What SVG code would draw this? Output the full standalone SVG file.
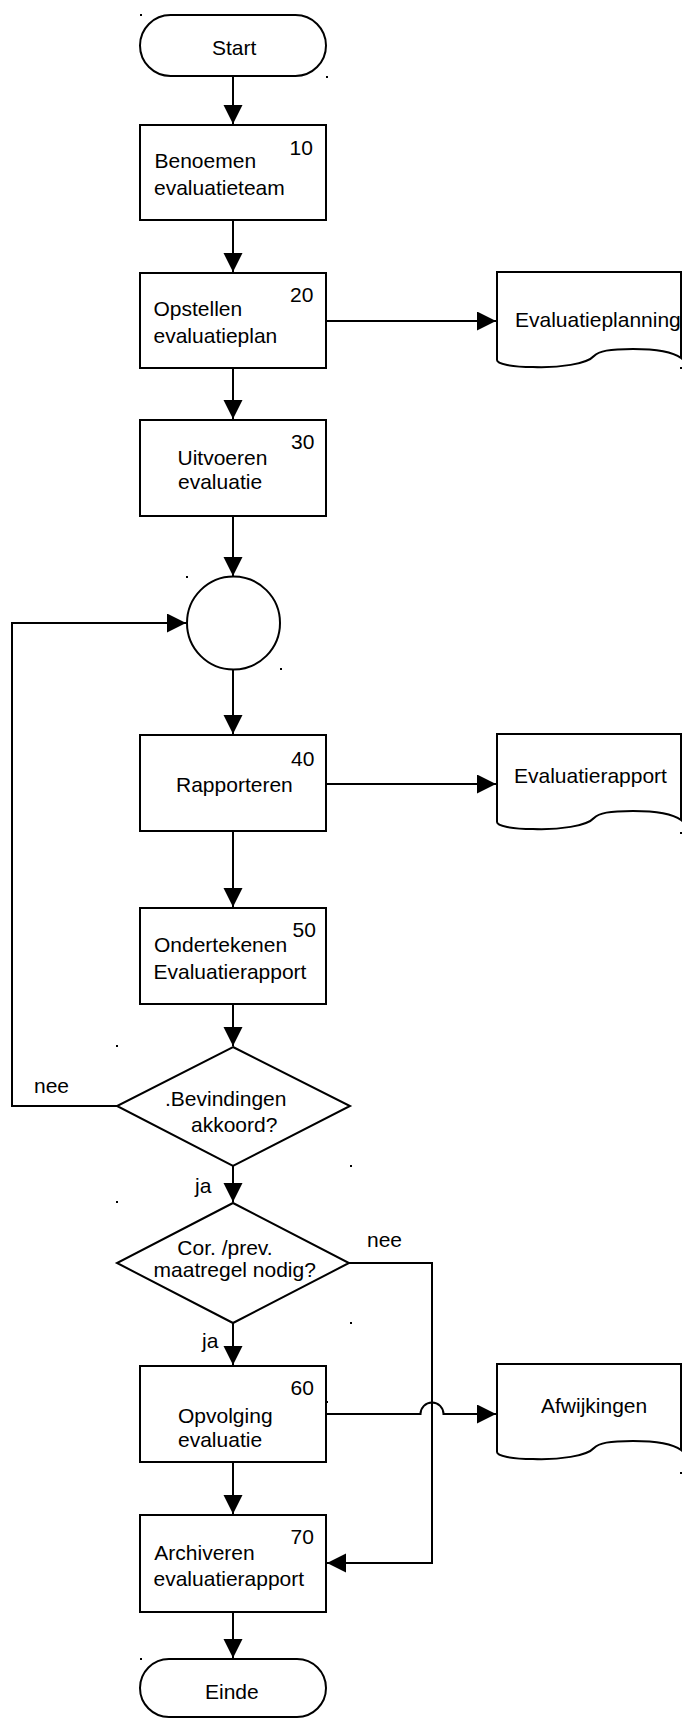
<svg xmlns="http://www.w3.org/2000/svg" width="683" height="1719" viewBox="0 0 683 1719">
<style>
.s{fill:#fff;stroke:#000;stroke-width:2}
.c{fill:none;stroke:#000;stroke-width:2}
text{font-family:"Liberation Sans",Arial,sans-serif;font-size:21px;fill:#000}
.d{fill:#000}
</style>
<defs>
<marker id="a" markerUnits="userSpaceOnUse" markerWidth="20" markerHeight="20" refX="19" refY="9.5" orient="auto">
<path d="M0,0 L19,9.5 L0,19 Z" fill="#000"/>
</marker>
<path id="doc" d="M0,0 H184 V86 C176,80 160,77 136,77 C112,77 102,79 97,84 C90,92 62,96 36,95 C15,95 0,92 0,88 Z"/>
</defs>
<rect width="683" height="1719" fill="#fff"/>
<g id="connectors">
<path class="c" d="M233,76 V124" marker-end="url(#a)"/>
<path class="c" d="M233,220 V272" marker-end="url(#a)"/>
<path class="c" d="M326,321 H496" marker-end="url(#a)"/>
<path class="c" d="M233,368 V419" marker-end="url(#a)"/>
<path class="c" d="M233,516 V576" marker-end="url(#a)"/>
<path class="c" d="M117,1106 H12 V623 H186" marker-end="url(#a)"/>
<path class="c" d="M233,669 V734" marker-end="url(#a)"/>
<path class="c" d="M326,784 H496" marker-end="url(#a)"/>
<path class="c" d="M233,831 V907" marker-end="url(#a)"/>
<path class="c" d="M233,1004 V1046" marker-end="url(#a)"/>
<path class="c" d="M233,1166 V1202" marker-end="url(#a)"/>
<path class="c" d="M233,1323 V1365" marker-end="url(#a)"/>
<path class="c" d="M326,1414 H420.5 A11.5,11.5 0 0 1 443.5,1414 H496" marker-end="url(#a)"/>
<path class="c" d="M349,1263 H432 V1563 H327" marker-end="url(#a)"/>
<path class="c" d="M233,1462 V1514" marker-end="url(#a)"/>
<path class="c" d="M233,1612 V1658" marker-end="url(#a)"/>
<text x="34" y="1093">nee</text>
<text x="195" y="1193">ja</text>
<text x="202" y="1348">ja</text>
<text x="367" y="1247">nee</text>
</g>
<g id="start">
<rect class="s" x="140" y="15" width="186" height="61" rx="30.5" ry="30.5"/>
<text x="212" y="55">Start</text>
</g>
<g id="n10">
<rect class="s" x="140" y="125" width="186" height="95"/>
<text x="289.5" y="155">10</text>
<text x="154.5" y="168">Benoemen</text>
<text x="154" y="195">evaluatieteam</text>
</g>
<g id="n20">
<rect class="s" x="140" y="273" width="186" height="95"/>
<text x="290" y="302">20</text>
<text x="153.5" y="316">Opstellen</text>
<text x="153.5" y="343">evaluatieplan</text>
</g>
<g id="evaluatieplanning">
<use href="#doc" class="s" x="497" y="272"/>
<text x="515" y="327">Evaluatieplanning</text>
</g>
<g id="n30">
<rect class="s" x="140" y="420" width="186" height="96"/>
<text x="291" y="449">30</text>
<text x="177.5" y="465">Uitvoeren</text>
<text x="178" y="489">evaluatie</text>
</g>
<g id="merge">
<circle class="s" cx="233.5" cy="623" r="46.5"/>
</g>
<g id="n40">
<rect class="s" x="140" y="735" width="186" height="96"/>
<text x="291" y="766">40</text>
<text x="176" y="792">Rapporteren</text>
</g>
<g id="evaluatierapport">
<use href="#doc" class="s" x="497" y="734"/>
<text x="514" y="783">Evaluatierapport</text>
</g>
<g id="n50">
<rect class="s" x="140" y="908" width="186" height="96"/>
<text x="292.5" y="937">50</text>
<text x="154" y="952">Ondertekenen</text>
<text x="153.5" y="979">Evaluatierapport</text>
</g>
<g id="d1">
<path class="s" d="M233,1047 L350,1106 L233,1166 L117,1106 Z"/>
<text x="165" y="1106">.Bevindingen</text>
<text x="191" y="1132">akkoord?</text>
</g>
<g id="d2">
<path class="s" d="M233,1203 L349,1263 L233,1323 L117,1263 Z"/>
<text x="177.3" y="1255">Cor. /prev.</text>
<text x="153.6" y="1277">maatregel nodig?</text>
</g>
<g id="n60">
<rect class="s" x="140" y="1366" width="186" height="96"/>
<text x="290.5" y="1395">60</text>
<text x="178" y="1423">Opvolging</text>
<text x="178" y="1447">evaluatie</text>
</g>
<g id="afwijkingen">
<use href="#doc" class="s" x="497" y="1364"/>
<text x="541" y="1413">Afwijkingen</text>
</g>
<g id="n70">
<rect class="s" x="140" y="1515" width="186" height="97"/>
<text x="290.5" y="1544">70</text>
<text x="154.3" y="1560">Archiveren</text>
<text x="153.5" y="1586">evaluatierapport</text>
</g>
<g id="einde">
<rect class="s" x="140" y="1659" width="186" height="58" rx="29" ry="29"/>
<text x="205" y="1699">Einde</text>
</g>
<g id="marks">
<rect class="d" x="140" y="14" width="2" height="2"/>
<rect class="d" x="326" y="76" width="2" height="2"/>
<rect class="d" x="186" y="576" width="2" height="2"/>
<rect class="d" x="280" y="668" width="2" height="2"/>
<rect class="d" x="680" y="367" width="2" height="2"/>
<rect class="d" x="680" y="832" width="2" height="2"/>
<rect class="d" x="680" y="1472" width="2" height="2"/>
<rect class="d" x="116" y="1045" width="2" height="2"/>
<rect class="d" x="350" y="1165" width="2" height="2"/>
<rect class="d" x="116" y="1201" width="2" height="2"/>
<rect class="d" x="350" y="1322" width="2" height="2"/>
<rect class="d" x="326" y="1401" width="2" height="2"/>
<rect class="d" x="140" y="1658" width="2" height="2"/>
</g>
</svg>
